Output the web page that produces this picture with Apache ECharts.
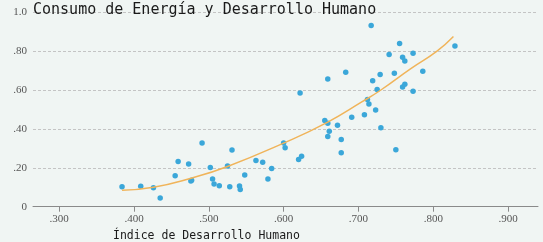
<!DOCTYPE html>
<html>
<head>
<meta charset="utf-8">
<script src="https://cdn.jsdelivr.net/npm/echarts@6/dist/echarts.min.js"></script>
<style>
html,body{margin:0;padding:0;background:#f0f5f3;}
#c{width:543px;height:242px;}
</style>
</head>
<body>
<div id="c"></div>
<script>
var titleText = "Consumo de Energía y Desarrollo Humano";
var xAxisTitle = "Índice de Desarrollo Humano";
var xTickLabels = [".300", ".400", ".500", ".600", ".700", ".800", ".900"];
var yTickLabels = {"0": "0", "0.2": ".20", "0.4": ".40", "0.6": ".60", "0.8": ".80", "1": "1.0"};

var idhValues = [0.384,0.409,0.426,0.435,0.455,0.459,0.473,0.476,0.477,0.491,0.502,0.505,0.507,0.514,0.525,0.528,0.531,0.541,0.542,0.548,0.563,0.572,0.579,0.584,0.600,0.602,0.620,0.624,0.622,0.655,0.659,0.661,0.659,0.672,0.677,0.677,0.659,0.683,0.691,0.708,0.712,0.714,0.723,0.730,0.725,0.719,0.729,0.748,0.786,0.759,0.762,0.773,0.717,0.755,0.741,0.759,0.762,0.773,0.829,0.750];
var energyValues = [0.103,0.105,0.098,0.045,0.159,0.233,0.220,0.132,0.136,0.328,0.201,0.142,0.117,0.108,0.209,0.103,0.292,0.106,0.089,0.163,0.237,0.228,0.142,0.197,0.327,0.303,0.243,0.259,0.584,0.443,0.429,0.388,0.361,0.419,0.346,0.278,0.657,0.691,0.460,0.473,0.551,0.528,0.497,0.406,0.602,0.647,0.680,0.686,0.696,0.615,0.630,0.593,0.931,0.839,0.783,0.768,0.749,0.789,0.826,0.293];

var trendX = [0.384,0.426,0.475,0.525,0.600,0.659,0.705,0.730,0.770,0.805,0.827];
var trendY = [0.084,0.100,0.145,0.207,0.327,0.435,0.540,0.600,0.710,0.800,0.875];

var scatterData = idhValues.map(function(v,i){return [v, energyValues[i]];});
var trendData = trendX.map(function(v,i){return [v, trendY[i]];});
var xLabelMap = {};
xTickLabels.forEach(function(l){ xLabelMap[(parseFloat(l)).toFixed(1)] = l; });

var chart = echarts.init(document.getElementById('c'), null, {renderer:'canvas'});
chart.setOption({
  backgroundColor: '#f0f5f3',
  animation: false,
  title: {
    text: titleText, left: 33, top: 3, padding: 0,
    textStyle: {fontFamily: 'DejaVu Sans Mono', fontSize: 15, fontWeight: 'normal', color: '#1a1a1a'}
  },
  graphic: [{
    type: 'text', left: 113, top: 230,
    style: {text: xAxisTitle, font: '11.5px "DejaVu Sans Mono"', fill: '#1a1a1a'}
  }],
  grid: {left: 33, right: 5, top: 12.2, bottom: 35.3, containLabel: false},
  xAxis: {
    type: 'value', min: 0.265, max: 0.94, interval: 0.1,
    axisLine: {show: true, lineStyle: {color: '#8a8a8a', width: 1}},
    axisTick: {show: true, length: 5, lineStyle: {color: '#8a8a8a'}, customValues: [0.3,0.4,0.5,0.6,0.7,0.8,0.9]},
    axisLabel: {
      margin: 7, color: '#555', fontSize: 11, fontFamily: 'Liberation Sans Narrow',
      customValues: [0.3,0.4,0.5,0.6,0.7,0.8,0.9],
      formatter: function(v){ return xLabelMap[v.toFixed(1)] || ''; }
    },
    splitLine: {show: false}
  },
  yAxis: {
    type: 'value', min: 0, max: 1, interval: 0.2,
    axisLine: {show: false}, axisTick: {show: false},
    axisLabel: {
      margin: 6, color: '#555', fontSize: 11, fontFamily: 'Liberation Sans Narrow',
      formatter: function(v){ return yTickLabels[String(Math.round(v*10)/10)]; }
    },
    splitLine: {show: true, lineStyle: {color: '#c4c4c4', type: [3,2], width: 1}}
  },
  series: [{
    type: 'scatter', data: scatterData, symbolSize: 5.5,
    itemStyle: {color: '#3ba7d9', opacity: 1}, z: 3
  }, {
    type: 'line', data: trendData, smooth: true, showSymbol: false, symbol: 'none',
    lineStyle: {color: '#f0b45a', width: 1.5}, z: 4
  }]
});
</script>
</body>
</html>
